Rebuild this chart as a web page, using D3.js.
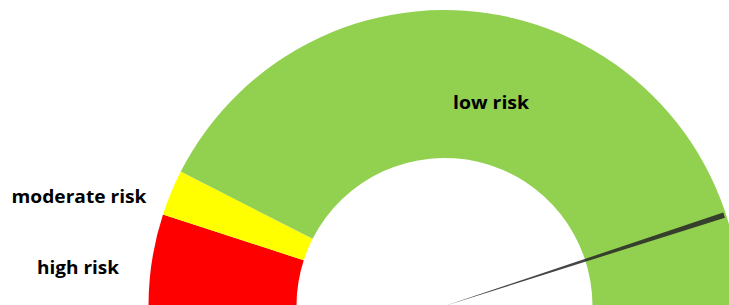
<!DOCTYPE html>
<html><head><meta charset="utf-8">
<script src="https://cdn.jsdelivr.net/npm/d3@7"></script>
<style>html,body{margin:0;padding:0;background:#fff;overflow:hidden}</style>
</head><body><svg id="c" width="729" height="305"></svg>
<script>
// Gauge bands (values out of a 100-point half circle)
const categories = ["high risk", "moderate risk", "low risk"];
const bandValues = [10, 5, 85];
const bandColors = ["#FF0000", "#FFFF00", "#92D050"];
// Needle
const needleValue = 90;
const needleWidth = 0.6;

const svg = d3.select("#c");
const cx = 444.5, cy = 306, R = 296, r = 148;
const total = d3.sum(bandValues);
const angle = d3.scaleLinear().domain([0, total]).range([-Math.PI / 2, Math.PI / 2]);

const g = svg.append("g").attr("transform", `translate(${cx},${cy})`);
const arc = d3.arc().innerRadius(r).outerRadius(R);

let acc = 0;
const bands = bandValues.map((v, i) => {
  const b = { cat: categories[i], start: acc, end: acc + v, color: bandColors[i] };
  acc += v;
  return b;
});
g.selectAll("path.band").data(bands).join("path")
  .attr("class", "band")
  .attr("d", d => arc({ startAngle: angle(d.start), endAngle: angle(d.end) }))
  .attr("fill", d => d.color);

// needle as a thin wedge
const needleArc = d3.arc().innerRadius(0).outerRadius(R - 2);
g.append("path")
  .attr("d", needleArc({ startAngle: angle(needleValue - needleWidth / 2), endAngle: angle(needleValue + needleWidth / 2) }))
  .attr("fill", "#262626").attr("fill-opacity", 0.85);

// labels
const labelPos = { "low risk": [491, 109, 76], "moderate risk": [79, 203, 135], "high risk": [78, 274, 82] };
svg.selectAll("text.lab").data(categories).join("text")
  .attr("class", "lab")
  .attr("x", d => labelPos[d][0]).attr("y", d => labelPos[d][1])
  .attr("text-anchor", "middle")
  .attr("textLength", d => labelPos[d][2]).attr("lengthAdjust", "spacingAndGlyphs")
  .style("font-family", "'Open Sans', sans-serif").style("font-weight", "bold").style("font-size", "18px")
  .attr("fill", "#000")
  .text(d => d);
</script></body></html>
